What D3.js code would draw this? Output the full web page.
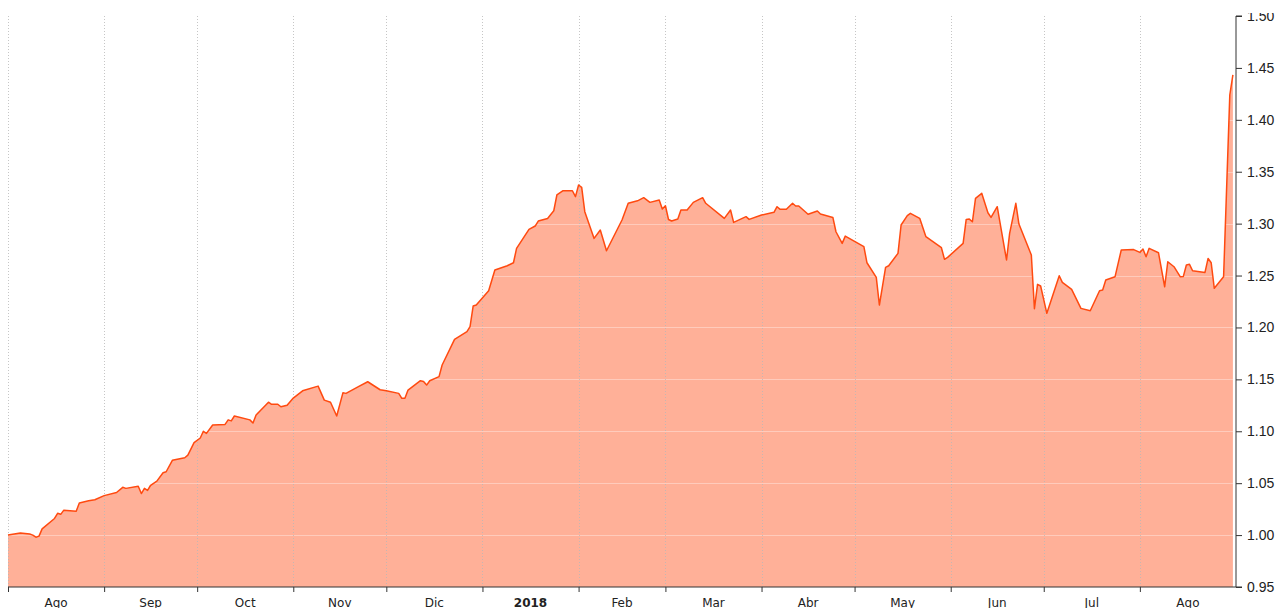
<!DOCTYPE html>
<html>
<head>
<meta charset="utf-8">
<script src="https://cdn.jsdelivr.net/npm/d3@7"></script>
<style>
  body { margin: 0; background: #fff; }
  #chart { position: absolute; left: 0; top: 13px; width: 1282px; height: 595px; overflow: hidden; }
</style>
</head>
<body>
<div id="chart"></div>
<script>
// series: dates and values
var dates = [
  "2017-08-01","2017-08-05","2017-08-08","2017-08-09","2017-08-10","2017-08-11","2017-08-12","2017-08-16",
  "2017-08-17","2017-08-18","2017-08-19","2017-08-23","2017-08-24","2017-08-27","2017-08-29","2017-09-01",
  "2017-09-05","2017-09-07","2017-09-08","2017-09-12","2017-09-13","2017-09-14","2017-09-15","2017-09-16",
  "2017-09-18","2017-09-20","2017-09-21","2017-09-23","2017-09-27","2017-09-28","2017-09-30","2017-10-02",
  "2017-10-03","2017-10-04","2017-10-06","2017-10-10","2017-10-11","2017-10-12","2017-10-13","2017-10-18",
  "2017-10-19","2017-10-20","2017-10-24","2017-10-25","2017-10-27","2017-10-28","2017-10-30","2017-11-01",
  "2017-11-04","2017-11-09","2017-11-11","2017-11-13","2017-11-15","2017-11-17","2017-11-18","2017-11-22",
  "2017-11-25","2017-11-29","2017-12-01","2017-12-05","2017-12-06","2017-12-07","2017-12-08","2017-12-12",
  "2017-12-13","2017-12-14","2017-12-15","2017-12-18","2017-12-19","2017-12-23","2017-12-27","2017-12-28",
  "2017-12-29","2017-12-30","2018-01-03","2018-01-05","2018-01-09","2018-01-11","2018-01-12","2018-01-16",
  "2018-01-18","2018-01-19","2018-01-22","2018-01-24","2018-01-25","2018-01-27","2018-01-30","2018-01-31",
  "2018-02-01","2018-02-02","2018-02-03","2018-02-06","2018-02-08","2018-02-10","2018-02-15","2018-02-17",
  "2018-02-20","2018-02-22","2018-02-24","2018-02-27","2018-02-28","2018-03-01","2018-03-02","2018-03-03",
  "2018-03-05","2018-03-06","2018-03-08","2018-03-10","2018-03-13","2018-03-14","2018-03-20","2018-03-22",
  "2018-03-23","2018-03-27","2018-03-28","2018-04-01","2018-04-05","2018-04-06","2018-04-07","2018-04-09",
  "2018-04-11","2018-04-12","2018-04-13","2018-04-16","2018-04-19","2018-04-20","2018-04-24","2018-04-25",
  "2018-04-27","2018-04-28","2018-05-04","2018-05-05","2018-05-08","2018-05-09","2018-05-11","2018-05-12",
  "2018-05-15","2018-05-16","2018-05-18","2018-05-19","2018-05-22","2018-05-24","2018-05-29","2018-05-30",
  "2018-05-31","2018-06-05","2018-06-06","2018-06-07","2018-06-08","2018-06-09","2018-06-11","2018-06-13",
  "2018-06-14","2018-06-16","2018-06-19","2018-06-20","2018-06-22","2018-06-23","2018-06-27","2018-06-28",
  "2018-06-29","2018-06-30","2018-07-02","2018-07-06","2018-07-07","2018-07-10","2018-07-13","2018-07-16",
  "2018-07-19","2018-07-20","2018-07-21","2018-07-24","2018-07-26","2018-07-30","2018-08-01","2018-08-02",
  "2018-08-03","2018-08-04","2018-08-07","2018-08-09","2018-08-10","2018-08-12","2018-08-14","2018-08-15",
  "2018-08-16","2018-08-17","2018-08-18","2018-08-22","2018-08-23","2018-08-24","2018-08-25","2018-08-28",
  "2018-08-30","2018-08-31"
];
var values = [
  1.000,1.002,1.001,1.000,0.998,0.999,1.006,1.016,
  1.021,1.020,1.024,1.023,1.031,1.033,1.034,1.038,
  1.041,1.046,1.045,1.047,1.040,1.045,1.043,1.048,
  1.052,1.060,1.061,1.072,1.0745,1.077,1.089,1.0935,
  1.100,1.098,1.106,1.1066,1.111,1.110,1.1147,1.111,
  1.108,1.1156,1.128,1.126,1.126,1.1236,1.125,1.132,
  1.139,1.1435,1.130,1.128,1.1147,1.137,1.1365,1.143,
  1.1477,1.140,1.139,1.1365,1.1317,1.1317,1.1397,1.1487,
  1.148,1.1445,1.1487,1.1526,1.1638,1.1885,1.1959,1.2007,
  1.2206,1.2216,1.2354,1.2553,1.2594,1.2623,1.2762,1.2945,
  1.2977,1.3025,1.305,1.3124,1.3276,1.3317,1.3317,1.326,
  1.3372,1.335,1.3115,1.2858,1.2938,1.2739,1.3035,1.3196,
  1.322,1.325,1.3205,1.3227,1.314,1.3172,1.304,1.3025,
  1.3044,1.3131,1.3131,1.3205,1.325,1.3196,1.3051,1.3131,
  1.3012,1.3067,1.3041,1.3083,1.3109,1.3163,1.3138,1.3138,
  1.3196,1.317,1.317,1.309,1.3121,1.3093,1.306,1.2922,
  1.281,1.288,1.2778,1.2623,1.2483,1.2216,1.2579,1.2594,
  1.2714,1.2987,1.3077,1.3099,1.3051,1.2874,1.2768,1.2656,
  1.2675,1.281,1.3041,1.3044,1.3018,1.3244,1.3292,1.3105,
  1.306,1.3163,1.265,1.2906,1.3196,1.2996,1.2698,1.218,
  1.2415,1.2399,1.2136,1.2498,1.2434,1.2367,1.2184,1.2161,
  1.2354,1.236,1.2457,1.2489,1.2746,1.2750,1.2723,1.2755,
  1.2681,1.2762,1.272,1.2392,1.2633,1.2585,1.2489,1.249,
  1.2601,1.2608,1.2546,1.253,1.2665,1.2623,1.2377,1.2489,
  1.4239,1.4432
];
var yTicks = [0.95, 1.00, 1.05, 1.10, 1.15, 1.20, 1.25, 1.30, 1.35, 1.40, 1.45, 1.50];
var monthStarts = ["2017-08-01","2017-09-01","2017-10-01","2017-11-01","2017-12-01","2018-01-01",
  "2018-02-01","2018-03-01","2018-04-01","2018-05-01","2018-06-01","2018-07-01","2018-08-01","2018-09-01"];
var monthLabels = ["Ago","Sep","Oct","Nov","Dic","2018","Feb","Mar","Abr","May","Jun","Jul","Ago"];

function drawChart() {
    var W = 1282, H = 595;
    var pLeft = 8, pRight = 1236, pTop = 3, pBottom = 574;
    var parse = d3.timeParse("%Y-%m-%d");

    var data = dates.map(function (d, i) { return { date: parse(d), value: values[i] }; });
    var months = monthStarts.map(parse);

    var x = d3.scaleTime()
        .domain([months[0], months[months.length - 1]])
        .range([pLeft, pRight]);
    var y = d3.scaleLinear()
        .domain([0.95, 1.50])
        .range([pBottom, pTop]);

    var svg = d3.select("#chart").append("svg")
        .attr("width", W)
        .attr("height", H)
        .style("font-family", "'DejaVu Sans', Verdana, sans-serif");

    // area + line
    var area = d3.area()
        .x(function (d) { return x(d.date); })
        .y0(pBottom)
        .y1(function (d) { return y(d.value); });
    var line = d3.line()
        .x(function (d) { return x(d.date); })
        .y(function (d) { return y(d.value); });

    svg.append("path")
        .datum(data)
        .attr("d", area)
        .attr("fill", "#ffb098");

    // horizontal grid (only shows over the fill)
    svg.append("g").selectAll("line")
        .data(yTicks.slice(1, -1))
        .enter().append("line")
        .attr("x1", pLeft)
        .attr("x2", pRight)
        .attr("y1", function (d) { return Math.round(y(d)) + 0.5; })
        .attr("y2", function (d) { return Math.round(y(d)) + 0.5; })
        .attr("stroke", "#ffffff")
        .attr("stroke-opacity", 0.35);

    // vertical grid at month starts
    svg.append("g").selectAll("line")
        .data(months.slice(0, -1))
        .enter().append("line")
        .attr("x1", function (d) { return Math.round(x(d)) + 0.5; })
        .attr("x2", function (d) { return Math.round(x(d)) + 0.5; })
        .attr("y1", pTop)
        .attr("y2", pBottom)
        .attr("stroke", "#b8b8b8")
        .attr("stroke-opacity", 0.8)
        .attr("stroke-dasharray", "1,2");

    svg.append("path")
        .datum(data)
        .attr("d", line)
        .attr("fill", "none")
        .attr("stroke", "#ff4a10")
        .attr("stroke-width", 1.5)
        .attr("stroke-linejoin", "round");

    // right axis
    var yAxis = d3.axisRight(y)
        .tickValues(yTicks)
        .tickSize(6)
        .tickPadding(5)
        .tickFormat(d3.format(".2f"));
    var gy = svg.append("g")
        .attr("transform", "translate(" + pRight + ",0)")
        .call(yAxis);
    gy.select(".domain").attr("stroke", "#333").attr("d", "M6," + pTop + "H0V" + pBottom + "H6");
    gy.selectAll(".tick line").attr("stroke", "#333");
    gy.selectAll("text").attr("fill", "#222").style("font-size", "14px");

    // bottom axis: ticks at month starts, labels mid-month
    var xAxis = d3.axisBottom(x)
        .tickValues(months.slice(0, -1))
        .tickSize(5)
        .tickFormat("");
    var gx = svg.append("g")
        .attr("transform", "translate(0," + pBottom + ")")
        .call(xAxis);
    gx.select(".domain").attr("stroke", "#333").attr("d", "M" + pLeft + ",0H" + pRight);
    gx.selectAll(".tick line").attr("stroke", "#333");

    svg.append("g").selectAll("text")
        .data(monthLabels)
        .enter().append("text")
        .attr("x", function (d, i) { return (x(months[i]) + x(months[i + 1])) / 2; })
        .attr("y", pBottom + 20)
        .attr("text-anchor", "middle")
        .attr("fill", "#222")
        .style("font-size", "12px")
        .style("font-weight", function (d) { return d == "2018" ? "bold" : "normal"; })
        .text(function (d) { return d; });
}
drawChart();
</script>
</body>
</html>
